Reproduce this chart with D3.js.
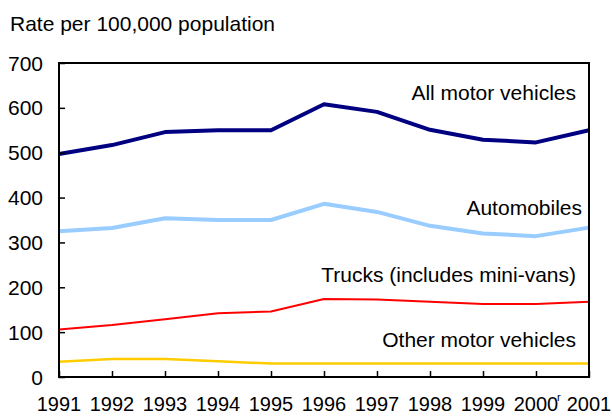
<!DOCTYPE html>
<html>
<head>
<meta charset="utf-8">
<script src="https://cdn.jsdelivr.net/npm/d3@7"></script>
<style>
  body { margin: 0; background: #fff; }
  text { font-family: "Liberation Sans", Arial, sans-serif; fill: #000; }
</style>
</head>
<body>
<svg id="chart" width="612" height="416"></svg>
<script>
// data
const years = ["1991", "1992", "1993", "1994", "1995", "1996", "1997", "1998", "1999", "2000", "2001"];
const allMotor = [497, 517, 546, 550, 550, 608, 591, 551, 529, 523, 550];
const automobiles = [325, 332, 354, 350, 350, 386, 368, 337, 320, 314, 333];
const trucks = [106, 116, 129, 142, 146, 174, 173, 168, 163, 163, 168];
const otherMotor = [34, 40, 40, 35, 30, 30, 30, 30, 30, 30, 30];
const yTicks = [0, 100, 200, 300, 400, 500, 600, 700];

const series = [
  { name: "All motor vehicles", values: allMotor, color: "#000080", width: 4, lx: 576, ly: 100 },
  { name: "Automobiles", values: automobiles, color: "#99ccff", width: 4, lx: 582, ly: 215 },
  { name: "Trucks (includes mini-vans)", values: trucks, color: "#ff0000", width: 2, lx: 576, ly: 282 },
  { name: "Other motor vehicles", values: otherMotor, color: "#ffcc00", width: 2.5, lx: 576, ly: 347 }
];

const svg = d3.select("#chart");
const plot = { left: 59, right: 589, top: 63, bottom: 377 };

const x = d3.scalePoint().domain(years).range([plot.left, plot.right]);
const y = d3.scaleLinear().domain([0, 700]).range([plot.bottom, plot.top]);

// title
svg.append("text")
  .attr("x", 10).attr("y", 31)
  .style("font-size", "21px")
  .text("Rate per 100,000 population");

// series lines (drawn before frame so the frame sits on top)
const line = d3.line()
  .x((d, i) => x(years[i]))
  .y(d => y(d));

series.forEach(s => {
  svg.append("path")
    .datum(s.values)
    .attr("fill", "none")
    .attr("stroke", s.color)
    .attr("stroke-width", s.width)
    .attr("stroke-linejoin", "round")
    .attr("d", line);
  svg.append("text")
    .attr("x", s.lx).attr("y", s.ly)
    .attr("text-anchor", "end")
    .style("font-size", "21px")
    .text(s.name);
});

// frame
svg.append("rect")
  .attr("x", plot.left).attr("y", plot.top)
  .attr("width", plot.right - plot.left).attr("height", plot.bottom - plot.top)
  .attr("fill", "none").attr("stroke", "#000").attr("stroke-width", 2);

// y axis: ticks pointing inward
const yAxis = svg.append("g")
  .attr("transform", `translate(${plot.left},0)`)
  .call(d3.axisRight(y).tickValues(yTicks).tickSize(6).tickFormat(""));
yAxis.select(".domain").remove();
yAxis.selectAll("line").attr("stroke", "#000").attr("stroke-width", 1.5);
svg.selectAll(".ylab").data(yTicks).join("text")
  .attr("class", "ylab")
  .attr("x", 43).attr("y", d => y(d))
  .attr("dy", "0.36em")
  .attr("text-anchor", "end")
  .style("font-size", "21px")
  .text(d => d);

// x axis: ticks pointing inward
const xAxis = svg.append("g")
  .attr("transform", `translate(0,${plot.bottom})`)
  .call(d3.axisTop(x).tickSize(6).tickFormat(""));
xAxis.select(".domain").remove();
xAxis.selectAll("line").attr("stroke", "#000").attr("stroke-width", 1.5);

svg.selectAll(".xlab").data(years).join("text")
  .attr("class", "xlab")
  .attr("x", d => x(d)).attr("y", 411)
  .attr("text-anchor", "middle")
  .style("font-size", "20px")
  .text(d => d);

// revised-figure mark between 2000 and 2001
svg.append("text")
  .attr("x", x("2000") + 21).attr("y", 401)
  .style("font-size", "11px")
  .text("r");
</script>
</body>
</html>
